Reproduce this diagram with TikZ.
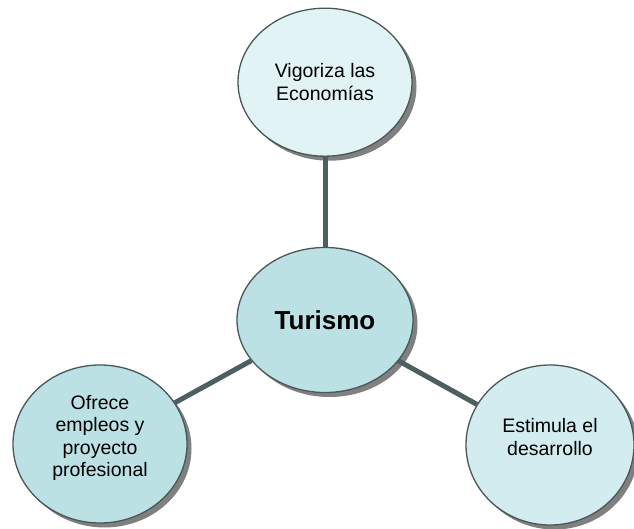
\documentclass[tikz,border=0pt]{standalone}
\usepackage{fontspec}
\setmainfont{Liberation Sans}
\usepackage{tikz}
\usetikzlibrary{positioning, shapes.geometric, shadows}
\usepackage{xcolor}

\definecolor{linkgray}{HTML}{4E5F61}
\definecolor{rimgray}{HTML}{4A5759}
\definecolor{palecyan}{HTML}{E1F3F4}
\definecolor{softcyan}{HTML}{D2ECEF}
\definecolor{midcyan}{HTML}{BBE1E5}
\definecolor{shadegray}{HTML}{808080}

\tikzset{
    bubble/.style={ellipse, draw=rimgray, line width=1.3pt, inner sep=0pt, align=center,
        font=\fontsize{19.5}{22.5}\selectfont,
        drop shadow={shadow xshift=4.5pt, shadow yshift=-4.5pt, fill=shadegray, opacity=1}},
    link/.style={draw=linkgray, line width=5pt}
}

\begin{document}
\begin{tikzpicture}[x=1pt, y=-1pt]
\useasboundingbox (0,0) rectangle (634,529);

\node[bubble, fill=midcyan, minimum width=176pt, minimum height=145pt,
      font=\fontsize{26}{30}\selectfont\bfseries] (turismo) at (325,320) {Turismo};
\node[bubble, fill=palecyan, minimum width=174pt, minimum height=148pt,
      above=90pt of turismo] (vigoriza) {Vigoriza las\\Economías};
\node[bubble, fill=midcyan, minimum width=174pt, minimum height=158pt] (ofrece) at (100,444)
      {Ofrece\\empleos y\\proyecto\\profesional\\[-6pt]};
\node[bubble, fill=softcyan, minimum width=168pt, minimum height=160pt] (estimula) at (550,445)
      {Estimula el\\desarrollo\\[-6pt]};

\draw[link] (turismo) -- (vigoriza);
\draw[link] (turismo) -- (ofrece);
\draw[link] (turismo) -- (estimula);
\end{tikzpicture}
\end{document}
